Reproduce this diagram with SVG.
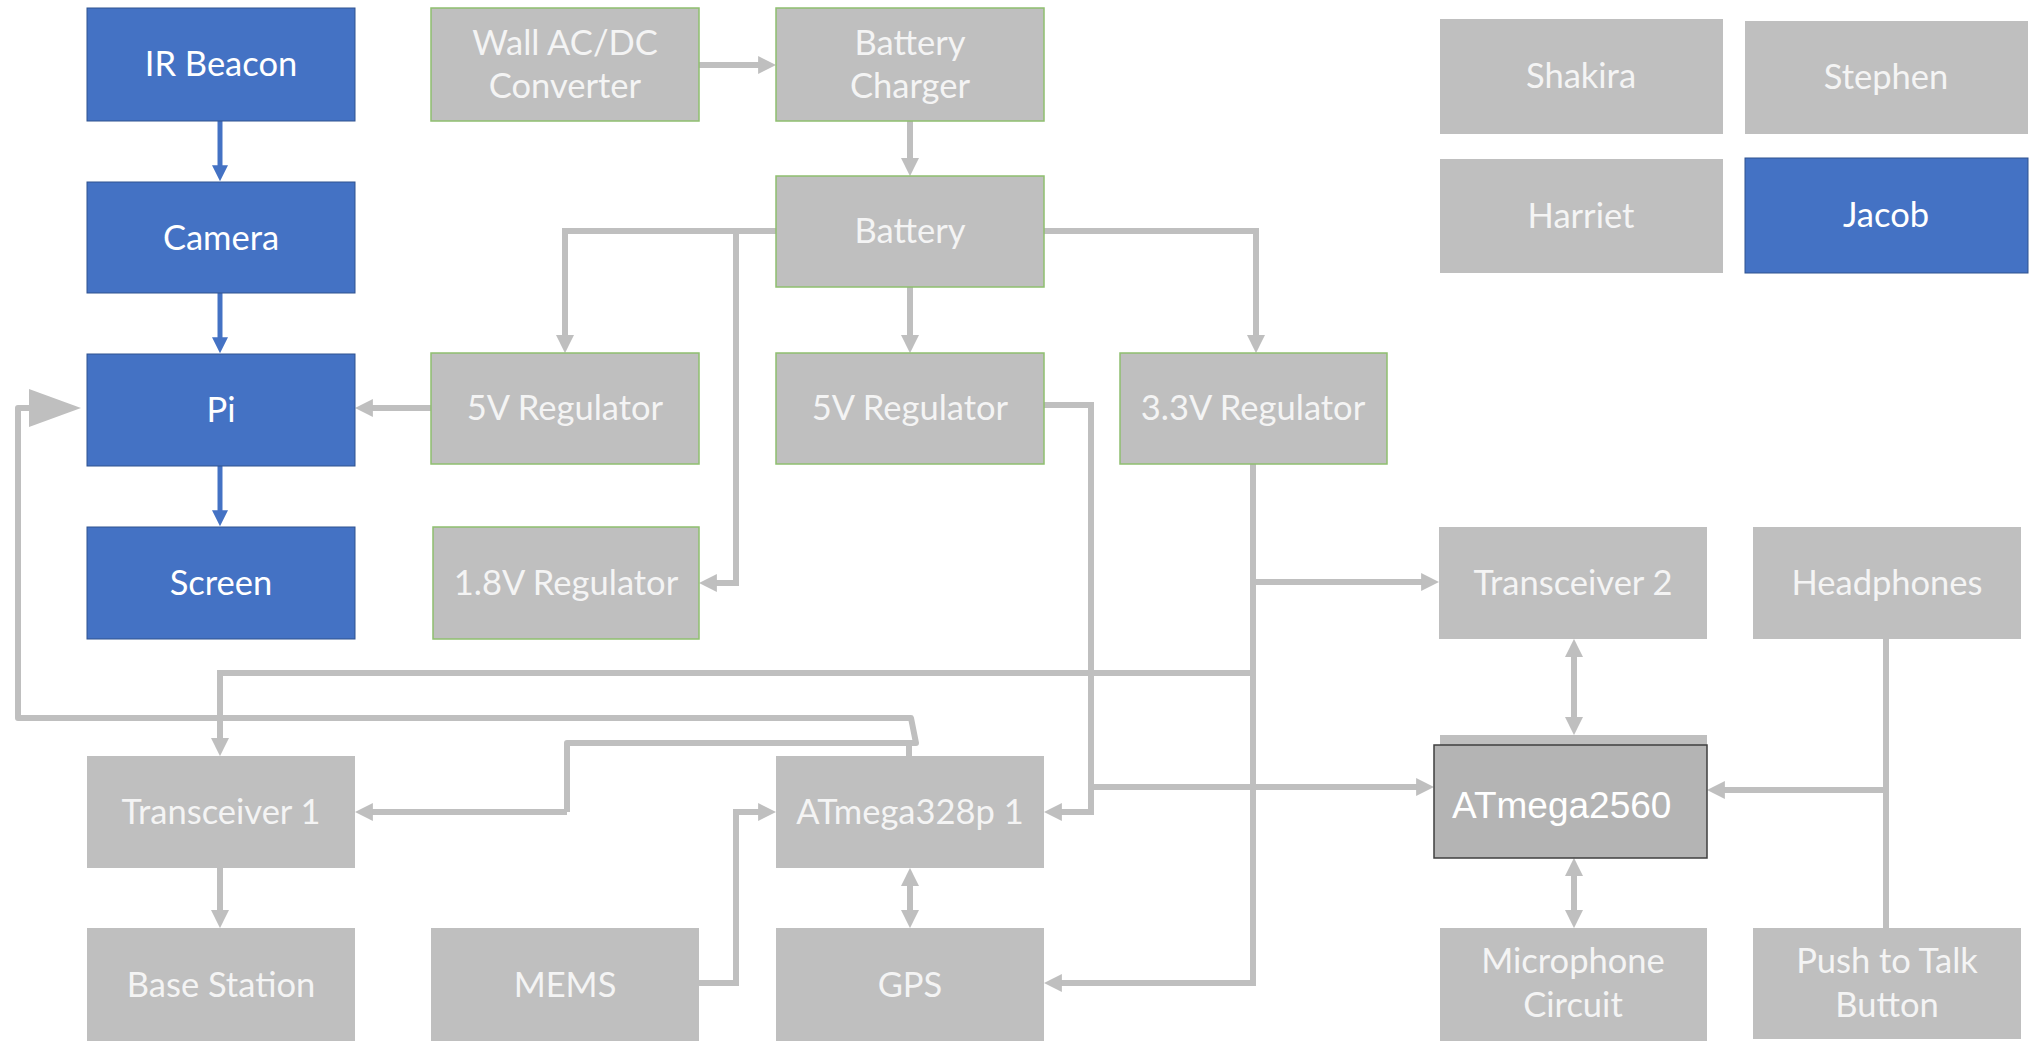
<svg xmlns="http://www.w3.org/2000/svg" width="2029" height="1046" viewBox="0 0 2029 1046">
<defs>
<style>
.g{fill:#bfbfbf}
.gp{fill:#bfbfbf;stroke:#8fbf6f;stroke-width:1.5}
.b{fill:#4472c4;stroke:#2f528f;stroke-width:1}
.t{font-family:Lato,"Open Sans",sans-serif;font-size:34.5px;fill:#f4f4f4;text-anchor:middle}
.tb{font-family:Lato,"Open Sans",sans-serif;font-size:34.5px;fill:#ffffff;text-anchor:middle}
.c{fill:none;stroke:#bfbfbf;stroke-width:6}
.cb{fill:none;stroke:#4472c4;stroke-width:5}
</style>
<marker id="ag" viewBox="0 0 10 10" refX="5.5" refY="5" markerWidth="18" markerHeight="18" markerUnits="userSpaceOnUse" orient="auto-start-reverse"><path d="M0,0 L10,5 L0,10 z" fill="#bfbfbf"/></marker>
<marker id="ab" viewBox="0 0 10 10" refX="5.5" refY="5" markerWidth="16" markerHeight="16" markerUnits="userSpaceOnUse" orient="auto"><path d="M0,0 L10,5 L0,10 z" fill="#4472c4"/></marker>
</defs>
<rect width="2029" height="1046" fill="#ffffff"/>

<g id="connectors">
<path class="cb" d="M220,121 V174" marker-end="url(#ab)"/>
<path class="cb" d="M220,293 V346" marker-end="url(#ab)"/>
<path class="cb" d="M220,466 V519" marker-end="url(#ab)"/>
<path class="c" d="M699,65 H768" marker-end="url(#ag)"/>
<path class="c" d="M910,121 V168" marker-end="url(#ag)"/>
<path class="c" d="M910,287 V345" marker-end="url(#ag)"/>
<path class="c" d="M1044,231 H1256 V345" marker-end="url(#ag)"/>
<path class="c" d="M776,231 H565 V345" marker-end="url(#ag)"/>
<path class="c" d="M736,231 V583 H707" marker-end="url(#ag)"/>
<path class="c" d="M431,408 H363" marker-end="url(#ag)"/>
<path class="c" d="M1044,405 H1091 V812 H1052" marker-end="url(#ag)"/>
<path class="c" d="M1091,787 H1426" marker-end="url(#ag)"/>
<path class="c" d="M1253,464 V983 H1052" marker-end="url(#ag)"/>
<path class="c" d="M1253,582 H1431" marker-end="url(#ag)"/>
<path class="c" d="M1253,673 H220 V748" marker-end="url(#ag)"/>
<path class="c" d="M909,756 V743"/>
<path class="c" d="M567,812 V743 H916 L911,718 H18 V408 H40" stroke-linejoin="round"/>
<polygon points="29,389 81,408 29,427" fill="#bfbfbf"/>
<path class="c" d="M567,812 H363" marker-end="url(#ag)"/>
<path class="c" d="M699,983 H736 V812 H768" marker-end="url(#ag)"/>
<path class="c" d="M910,876 V920" marker-start="url(#ag)" marker-end="url(#ag)"/>
<path class="c" d="M220,868 V920" marker-end="url(#ag)"/>
<path class="c" d="M1574,647 V727" marker-start="url(#ag)" marker-end="url(#ag)"/>
<path class="c" d="M1574,866 V920" marker-start="url(#ag)" marker-end="url(#ag)"/>
<path class="c" d="M1886,639 V928" stroke-width="5"/>
<path class="c" d="M1886,790 H1715" marker-end="url(#ag)"/>
</g>

<g id="ir-beacon"><rect class="b" x="87" y="8" width="268" height="113"/><text class="tb" x="221" y="76">IR Beacon</text></g>
<g id="camera"><rect class="b" x="87" y="182" width="268" height="111"/><text class="tb" x="221" y="250">Camera</text></g>
<g id="pi"><rect class="b" x="87" y="354" width="268" height="112"/><text class="tb" x="221" y="422">Pi</text></g>
<g id="screen"><rect class="b" x="87" y="527" width="268" height="112"/><text class="tb" x="221" y="595">Screen</text></g>

<g id="wall-acdc"><rect class="gp" x="431" y="8" width="268" height="113"/><text class="t" x="565" y="55">Wall AC/DC</text><text class="t" x="565" y="98">Converter</text></g>
<g id="battery-charger"><rect class="gp" x="776" y="8" width="268" height="113"/><text class="t" x="910" y="55">Battery</text><text class="t" x="910" y="98">Charger</text></g>
<g id="battery"><rect class="gp" x="776" y="176" width="268" height="111"/><text class="t" x="910" y="243">Battery</text></g>
<g id="reg-5v-a"><rect class="gp" x="431" y="353" width="268" height="111"/><text class="t" x="565" y="420">5V Regulator</text></g>
<g id="reg-5v-b"><rect class="gp" x="776" y="353" width="268" height="111"/><text class="t" x="910" y="420">5V Regulator</text></g>
<g id="reg-3v3"><rect class="gp" x="1120" y="353" width="267" height="111"/><text class="t" x="1253" y="420">3.3V Regulator</text></g>
<g id="reg-1v8"><rect class="gp" x="433" y="527" width="266" height="112"/><text class="t" x="566" y="595">1.8V Regulator</text></g>

<g id="shakira"><rect class="g" x="1440" y="19" width="283" height="115"/><text class="t" x="1581" y="88">Shakira</text></g>
<g id="stephen"><rect class="g" x="1745" y="21" width="283" height="113"/><text class="t" x="1886" y="89">Stephen</text></g>
<g id="harriet"><rect class="g" x="1440" y="159" width="283" height="114"/><text class="t" x="1581" y="228">Harriet</text></g>
<g id="jacob"><rect class="b" x="1745" y="158" width="283" height="115"/><text class="tb" x="1886" y="227">Jacob</text></g>

<g id="transceiver-2"><rect class="g" x="1439" y="527" width="268" height="112"/><text class="t" x="1573" y="595">Transceiver 2</text></g>
<g id="headphones"><rect class="g" x="1753" y="527" width="268" height="112"/><text class="t" x="1887" y="595">Headphones</text></g>
<g id="transceiver-1"><rect class="g" x="87" y="756" width="268" height="112"/><text class="t" x="221" y="824">Transceiver 1</text></g>
<g id="base-station"><rect class="g" x="87" y="928" width="268" height="113"/><text class="t" x="221" y="997">Base Station</text></g>
<g id="mems"><rect class="g" x="431" y="928" width="268" height="113"/><text class="t" x="565" y="997">MEMS</text></g>
<g id="atmega328p"><rect class="g" x="776" y="756" width="268" height="112"/><text class="t" x="910" y="824">ATmega328p 1</text></g>
<g id="gps"><rect class="g" x="776" y="928" width="268" height="113"/><text class="t" x="910" y="997">GPS</text></g>
<g id="atmega2560"><rect class="g" x="1440" y="735" width="267" height="113"/><rect x="1434" y="745" width="273" height="113" fill="#b4b4b4" stroke="#3f3f3f" stroke-width="1.5"/><text x="1452" y="818" font-family="'Liberation Sans',Arial,sans-serif" font-size="37" fill="#ffffff">ATmega2560</text></g>
<g id="microphone"><rect class="g" x="1440" y="928" width="267" height="113"/><text class="t" x="1573" y="973">Microphone</text><text class="t" x="1573" y="1017">Circuit</text></g>
<g id="push-to-talk"><rect class="g" x="1753" y="928" width="268" height="111"/><text class="t" x="1887" y="973">Push to Talk</text><text class="t" x="1887" y="1017">Button</text></g>
</svg>
